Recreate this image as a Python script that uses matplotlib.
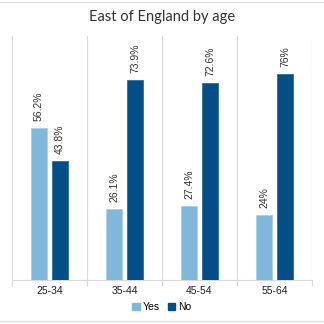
import numpy as np
import matplotlib
matplotlib.use("Agg")
import matplotlib.pyplot as plt
from matplotlib.lines import Line2D

ages = ["25-34", "35-44", "45-54", "55-64"]
yes_vals = [56.2, 26.1, 27.4, 24]
no_vals = [43.8, 73.9, 72.6, 76]
yes_labels = ["56.2%", "26.1%", "27.4%", "24%"]
no_labels = ["43.8%", "73.9%", "72.6%", "76%"]

c_yes = "#7fb8da"
c_no = "#034e87"
grid_c = "#d9d9d9"

plt.rcParams['font.family'] = ['Liberation Sans', 'DejaVu Sans']

fig = plt.figure(figsize=(3.24, 3.24), dpi=100)
ax = fig.add_axes([12 / 324, 44 / 324, 300 / 324, 244 / 324])

x = np.arange(len(ages))
w = 0.215
off = 0.14
b1 = ax.bar(x - off, yes_vals, w, color=c_yes, edgecolor="#a9d0e8", linewidth=0.6, label="Yes", zorder=3)
b2 = ax.bar(x + off, no_vals, w, color=c_no, edgecolor="#2f6d9e", linewidth=0.6, label="No", zorder=3)

for bars, labs in ((b1, yes_labels), (b2, no_labels)):
    for rect, lab in zip(bars, labs):
        ax.text(rect.get_x() + rect.get_width() / 2, rect.get_height() + 2.5, lab,
                rotation=90, ha="center", va="bottom", fontsize=7.5, color="#333333")

ax.set_xlim(-0.5, len(ages) - 0.5)
ax.set_ylim(0, 90)
ax.set_xticks(x)
ax.set_xticklabels(ages, fontsize=7.5, color="#222222")
ax.set_xticks(np.arange(-0.5, len(ages), 1), minor=True)
ax.tick_params(axis="x", which="major", length=0, pad=4)
ax.tick_params(axis="x", which="minor", length=4, color=grid_c, width=0.8)
ax.grid(axis="x", which="minor", color=grid_c, linewidth=0.8, zorder=0)
ax.set_yticks([])
for s in ["top", "left", "right"]:
    ax.spines[s].set_visible(False)
ax.spines["bottom"].set_color(grid_c)
ax.spines["bottom"].set_linewidth(0.8)

ax.set_title("East of England by age", fontsize=10.5, color="#333333", pad=11,
             fontfamily=["Lato", "DejaVu Sans"])

handles = [plt.Rectangle((0, 0), 1, 1, color=c_yes), plt.Rectangle((0, 0), 1, 1, color=c_no)]
fig.legend(handles, ["Yes", "No"], loc="center", bbox_to_anchor=(0.5, 0.052),
           ncol=2, frameon=False, fontsize=7.5, handlelength=0.7, handleheight=0.7,
           handletextpad=0.3, columnspacing=0.8)

fig.add_artist(Line2D([0, 1], [1 - 2 / 324, 1 - 2 / 324], color="#e0e0e0", linewidth=1))
fig.add_artist(Line2D([0, 1], [3 / 324, 3 / 324], color="#e0e0e0", linewidth=1))

fig.savefig("out.png", dpi=100)
